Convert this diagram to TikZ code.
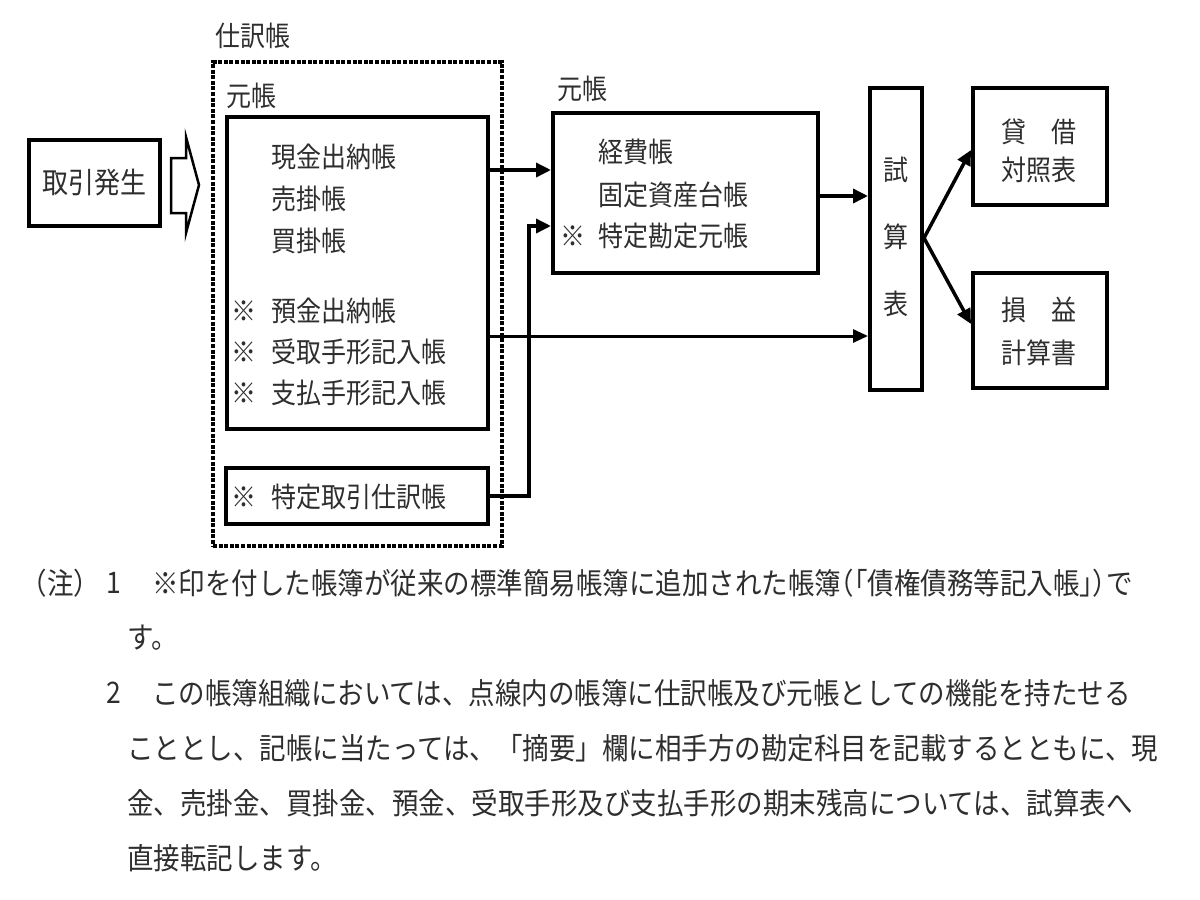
\documentclass[tikz,border=0pt]{standalone}
\usepackage{fontspec}
\setmainfont{Noto Sans CJK JP}
\usetikzlibrary{arrows.meta}
\definecolor{txt}{HTML}{2E2E2E}
\newcommand\hw[1]{{\addfontfeature{RawFeature=+halt}#1}}
\newcommand\vst[1]{\scalebox{1}[1.12]{#1}}
\tikzset{
 box/.style={draw=black, line width=4pt, rectangle, inner sep=0pt, fill=white},
 lbl/.style={anchor=west, inner sep=0pt, text=txt, font=\fontsize{25}{30}\selectfont},
 clbl/.style={lbl, anchor=center},
 note/.style={anchor=west, inner sep=0pt, text=txt, font=\fontsize{26.5}{32}\selectfont},
 conn/.style={line width=3.5pt, -{Triangle[length=15pt,width=14pt]}},
 thinconn/.style={line width=3pt, -{Triangle[length=15pt,width=13pt]}},
 dotbox/.style={draw=black, line width=3.5pt, dash pattern=on 4pt off 1.6pt, rectangle, inner sep=0pt},
}
\begin{document}
\begin{tikzpicture}[x=1pt, y=-1pt]
\useasboundingbox (0,0) rectangle (1200,900);

% dotted frame
\node[dotbox, minimum width=289pt, minimum height=484pt] (dot) at (357.5,304) {};
\node[lbl] (lshiwake) at (215,36) {\vst{仕訳帳}};
\node[lbl] (lmotoL) at (226,96) {\vst{元帳}};
\node[lbl] (lmotoM) at (557,89) {\vst{元帳}};

% boxes
\node[box, minimum width=131pt, minimum height=86pt] (trig) at (94.5,183) {};
\node[box, minimum width=261pt, minimum height=312pt] (genL) at (357.5,273) {};
\node[box, minimum width=262pt, minimum height=56pt] (tok) at (357,496) {};
\node[box, minimum width=265pt, minimum height=160pt] (mid) at (685.5,193) {};
\node[box, minimum width=52pt, minimum height=302pt] (shisan) at (896,239) {};
\node[box, minimum width=134pt, minimum height=117pt] (taisha) at (1040,146.5) {};
\node[box, minimum width=134pt, minimum height=115pt] (soneki) at (1040,330.5) {};

% hollow arrow
\draw[line width=2.5pt, fill=white, line join=miter] (171,158) -- (186,158) -- (186,137) -- (199,185) -- (186,233) -- (186,213) -- (171,213) -- cycle;

% texts
\node[clbl, font=\fontsize{26}{30}\selectfont] (ttrig) at (94.5,183) {\vst{取引発生}};

\node[lbl] (t1) at (271,157) {\vst{現金出納帳}};
\node[lbl] (t2) at (271,199) {\vst{売掛帳}};
\node[lbl] (t3) at (271,241) {\vst{買掛帳}};
\node[lbl] (k4) at (231,311) {\vst{※}};
\node[lbl] (t4) at (271,311) {\vst{預金出納帳}};
\node[lbl] (k5) at (231,352) {\vst{※}};
\node[lbl] (t5) at (271,352) {\vst{受取手形記入帳}};
\node[lbl] (k6) at (231,393) {\vst{※}};
\node[lbl] (t6) at (271,393) {\vst{支払手形記入帳}};

\node[lbl] (k7) at (231,497) {\vst{※}};
\node[lbl] (t7) at (271,497) {\vst{特定取引仕訳帳}};

\node[lbl] (m1) at (598,152) {\vst{経費帳}};
\node[lbl] (m2) at (598,195) {\vst{固定資産台帳}};
\node[lbl] (mk3) at (560,236) {\vst{※}};
\node[lbl] (m3) at (598,236) {\vst{特定勘定元帳}};

\node[clbl] (s1) at (896,170) {\vst{試}};
\node[clbl] (s2) at (896,237) {\vst{算}};
\node[clbl] (s3) at (896,304) {\vst{表}};

\node[clbl] (b1) at (1039,132) {\vst{貸　借}};
\node[clbl] (b2) at (1039,170) {\vst{対照表}};
\node[clbl] (p1) at (1039,310) {\vst{損　益}};
\node[clbl] (p2) at (1039,353) {\vst{計算書}};

% connectors
\draw[conn] (genL.east |- 0,170) -- (mid.west |- 0,170);
\draw[conn, line join=miter] (tok.east) -- ++(39,0) |- (mid.west |- 0,226);
\draw[thinconn] (genL.east |- 0,336) -- (shisan.west |- 0,336);
\draw[conn] (mid.east |- 0,196) -- (shisan.west |- 0,196);
\draw[conn] (shisan.east |- 0,238) -- (taisha.west |- 0,150);
\draw[conn] (shisan.east |- 0,238) -- (soneki.west |- 0,324);

% notes
\node[note] (n0) at (34,583) {\vst{\hw{（}注\hw{）}}};
\node[note] (n1a) at (106,583) {\vst{1}};
\node[note] (n1) at (152,583) {\vst{※印を付した帳簿が従来の標準簡易帳簿に追加された帳簿\hw{（「}債権債務等記入帳\hw{」）}で}};
\node[note] (n1b) at (127,638) {\vst{す。}};
\node[note] (n2a) at (106,693) {\vst{2}};
\node[note] (n2) at (152,693) {\vst{この帳簿組織においては、点線内の帳簿に仕訳帳及び元帳としての機能を持たせる}};
\node[note] (n3) at (127,748) {\vst{こととし、記帳に当たっては、「摘要」欄に相手方の勘定科目を記載するとともに、現}};
\node[note] (n4) at (127,803) {\vst{金、売掛金、買掛金、預金、受取手形及び支払手形の期末残高については、試算表へ}};
\node[note] (n5) at (127,858) {\vst{直接転記します。}};
\end{tikzpicture}
\end{document}
